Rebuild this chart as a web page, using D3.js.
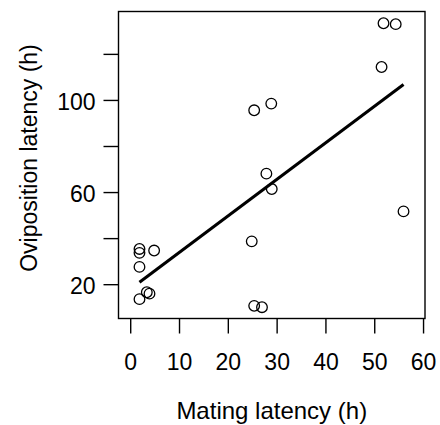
<!DOCTYPE html>
<html>
<head>
<meta charset="utf-8">
<script src="https://cdn.jsdelivr.net/npm/d3@7"></script>
<style>
  body { margin: 0; background: #fff; }
  svg text { font-family: "Liberation Sans", Arial, Helvetica, sans-serif; fill: #000; }
</style>
</head>
<body>
<script>
// mating latency (h) vs oviposition latency (h)
const matingLatency = [51.9, 54.4, 51.5, 25.4, 28.9, 27.9, 29.0, 56.0, 24.9,
                       1.9, 1.9, 4.9, 1.9, 3.4, 3.95, 1.9, 25.4, 27.0];
const ovipositionLatency = [133.3, 132.9, 114.3, 95.5, 98.4, 68.0, 61.3, 51.6, 38.6,
                            35.3, 33.6, 34.6, 27.5, 16.5, 15.9, 13.5, 10.6, 10.0];
const xTicks = [0, 10, 20, 30, 40, 50, 60];
const yTicks = [20, 40, 60, 80, 100, 120];
const yLabelled = [20, 60, 100];
// fitted line: intercept, slope
const fit = [17.8, 1.587];

const width = 440, height = 425;
const box = {left: 118.5, right: 425, top: 11.5, bottom: 318.5};

const svg = d3.select("body").append("svg")
    .attr("width", width)
    .attr("height", height);

const x = d3.scaleLinear()
    .domain([-2.4, 60.4])
    .range([box.left, box.right]);

const y = d3.scaleLinear()
    .domain([5.1, 138.4])
    .range([box.bottom, box.top]);

// x axis
const xAxis = svg.append("g")
    .attr("transform", `translate(0,${box.bottom})`)
    .call(d3.axisBottom(x).tickValues(xTicks).tickSize(15).tickPadding(20));
xAxis.select(".domain").remove();
xAxis.selectAll("line").attr("stroke", "#000").attr("stroke-width", 1.4);
xAxis.selectAll("text").attr("font-size", 23).attr("font-family", null);

// y axis
const yAxis = svg.append("g")
    .attr("transform", `translate(${box.left},0)`)
    .call(d3.axisLeft(y).tickValues(yTicks).tickSize(15).tickPadding(8)
      .tickFormat(d => yLabelled.includes(d) ? d : ""));
yAxis.select(".domain").remove();
yAxis.selectAll("line").attr("stroke", "#000").attr("stroke-width", 1.4);
yAxis.selectAll("text").attr("font-size", 23).attr("font-family", null).attr("dy", "0.42em");

// plot box
svg.append("rect")
    .attr("x", box.left)
    .attr("y", box.top)
    .attr("width", box.right - box.left)
    .attr("height", box.bottom - box.top)
    .attr("fill", "none")
    .attr("stroke", "#000")
    .attr("stroke-width", 1.4);

// points
svg.selectAll("circle")
    .data(matingLatency)
    .enter().append("circle")
    .attr("cx", d => x(d))
    .attr("cy", (d, i) => y(ovipositionLatency[i]))
    .attr("r", 5.3)
    .attr("fill", "none")
    .attr("stroke", "#000")
    .attr("stroke-width", 1.3);

// regression line over the data range
const xr = d3.extent(matingLatency);
svg.append("line")
    .attr("x1", x(xr[0]))
    .attr("y1", y(fit[0] + fit[1] * xr[0]))
    .attr("x2", x(xr[1]))
    .attr("y2", y(fit[0] + fit[1] * xr[1]))
    .attr("stroke", "#000")
    .attr("stroke-width", 3);

// axis titles
svg.append("text")
    .attr("x", (box.left + box.right) / 2)
    .attr("y", 419)
    .attr("text-anchor", "middle")
    .attr("font-size", 24)
    .text("Mating latency (h)");

svg.append("text")
    .attr("transform", "translate(37,158) rotate(-90)")
    .attr("text-anchor", "middle")
    .attr("font-size", 23)
    .text("Oviposition latency (h)");
</script>
</body>
</html>
